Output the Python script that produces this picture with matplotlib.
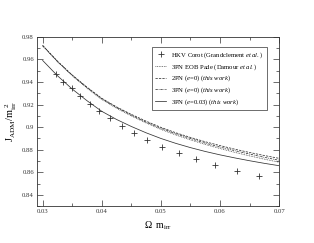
import matplotlib
matplotlib.use("Agg")
import matplotlib.pyplot as plt
from matplotlib.ticker import MultipleLocator, FormatStrFormatter

plt.rcParams['font.family'] = 'Liberation Serif'
plt.rcParams['mathtext.fontset'] = 'custom'
plt.rcParams['mathtext.rm'] = 'Liberation Serif'
plt.rcParams['mathtext.it'] = 'Liberation Serif:italic'

# HKV Corot points
hkv_x = [0.03225, 0.03348, 0.0349, 0.0363, 0.0380, 0.0396, 0.0414, 0.0434,
         0.0455, 0.0477, 0.0502, 0.0530, 0.0559, 0.0592, 0.0628, 0.0666]
hkv_y = [0.9467, 0.9399, 0.9346, 0.9279, 0.9209, 0.9141, 0.9082, 0.9009,
         0.8950, 0.8883, 0.8821, 0.8774, 0.8718, 0.8668, 0.8610, 0.8566]

# curves
omega = [0.0300, 0.0325, 0.0350, 0.0375, 0.0400, 0.0425, 0.0450, 0.0475, 0.0500,
         0.0525, 0.0550, 0.0575, 0.0600, 0.0625, 0.0650, 0.0675, 0.0700]
eob_3pn = [0.9720, 0.9579, 0.9455, 0.9345, 0.9245, 0.9167, 0.9099, 0.9037, 0.8980,
           0.8931, 0.8887, 0.8847, 0.8811, 0.8777, 0.8746, 0.8717, 0.8690]
pn2_e0 = [0.9722, 0.9583, 0.9461, 0.9353, 0.9255, 0.9179, 0.9113, 0.9053, 0.8998,
          0.8951, 0.8909, 0.8871, 0.8837, 0.8805, 0.8776, 0.8749, 0.8724]
pn3_e0 = [0.9722, 0.9582, 0.9459, 0.9350, 0.9251, 0.9174, 0.9107, 0.9045, 0.8990,
          0.8942, 0.8899, 0.8859, 0.8824, 0.8792, 0.8762, 0.8733, 0.8707]
pn3_e003 = [0.9590, 0.9455, 0.9337, 0.9234, 0.9140, 0.9068, 0.9006, 0.8950, 0.8900,
            0.8857, 0.8819, 0.8785, 0.8755, 0.8728, 0.8703, 0.8680, 0.8659]

fig = plt.figure(figsize=(3.14, 2.43), dpi=100)
ax = fig.add_axes([0.117, 0.151, 0.772, 0.698])

col = '#333333'
lw = 0.55
ax.plot(hkv_x, hkv_y, ls='none', marker='+', ms=5, mew=0.6, color=col,
        label='HKV Corot (Grandclement $\\mathit{et\\ al.}$)')
ax.plot(omega, eob_3pn, ls=(0, (1, 1.2)), lw=lw, color=col,
        label='3PN EOB Pade (Damour $\\mathit{et\\ al.}$)')
ax.plot(omega, pn2_e0, ls=(0, (3, 1.5)), lw=lw, color=col,
        label='2PN ($\\mathit{e}$=0) ($\\mathit{this\\ work}$)')
ax.plot(omega, pn3_e0, ls=(0, (3, 1.2, 1, 1.2)), lw=lw, color=col,
        label='3PN ($\\mathit{e}$=0) ($\\mathit{this\\ work}$)')
ax.plot(omega, pn3_e003, ls='-', lw=lw, color=col,
        label='3PN ($\\mathit{e}$=0.03) ($\\mathit{this\\ work}$)')

ax.set_xlim(0.029, 0.07)
ax.set_ylim(0.83, 0.98)
ax.xaxis.set_major_locator(MultipleLocator(0.01))
ax.xaxis.set_minor_locator(MultipleLocator(0.005))
ax.yaxis.set_major_locator(MultipleLocator(0.02))
ax.yaxis.set_minor_locator(MultipleLocator(0.01))
ax.xaxis.set_major_formatter(FormatStrFormatter('%g'))
ax.yaxis.set_major_formatter(FormatStrFormatter('%g'))
ax.tick_params(which='both', direction='in', top=True, right=True,
               labelsize=4.8, width=0.5, colors=col, pad=2)
ax.tick_params(which='major', length=4)
ax.tick_params(which='minor', length=2)
for s in ax.spines.values():
    s.set_linewidth(0.6)
    s.set_color(col)

ax.set_xlabel('$\\Omega\\ \\ \\mathrm{m}_{\\mathrm{irr}}$', fontsize=7, labelpad=4)
ax.set_ylabel('$\\mathrm{J}_{\\mathrm{ADM}}/\\mathrm{m}_{\\mathrm{irr}}^{\\ 2}$',
              fontsize=7.5, labelpad=2)

leg = ax.legend(loc='upper right', bbox_to_anchor=(0.948, 0.9375), borderaxespad=0,
                fontsize=4.8, fancybox=False, framealpha=1, edgecolor=col,
                handlelength=1.6, handletextpad=0.8, labelspacing=0.3,
                borderpad=0.45)
leg.get_frame().set_linewidth(0.5)

fig.savefig('out.png', dpi=100)
